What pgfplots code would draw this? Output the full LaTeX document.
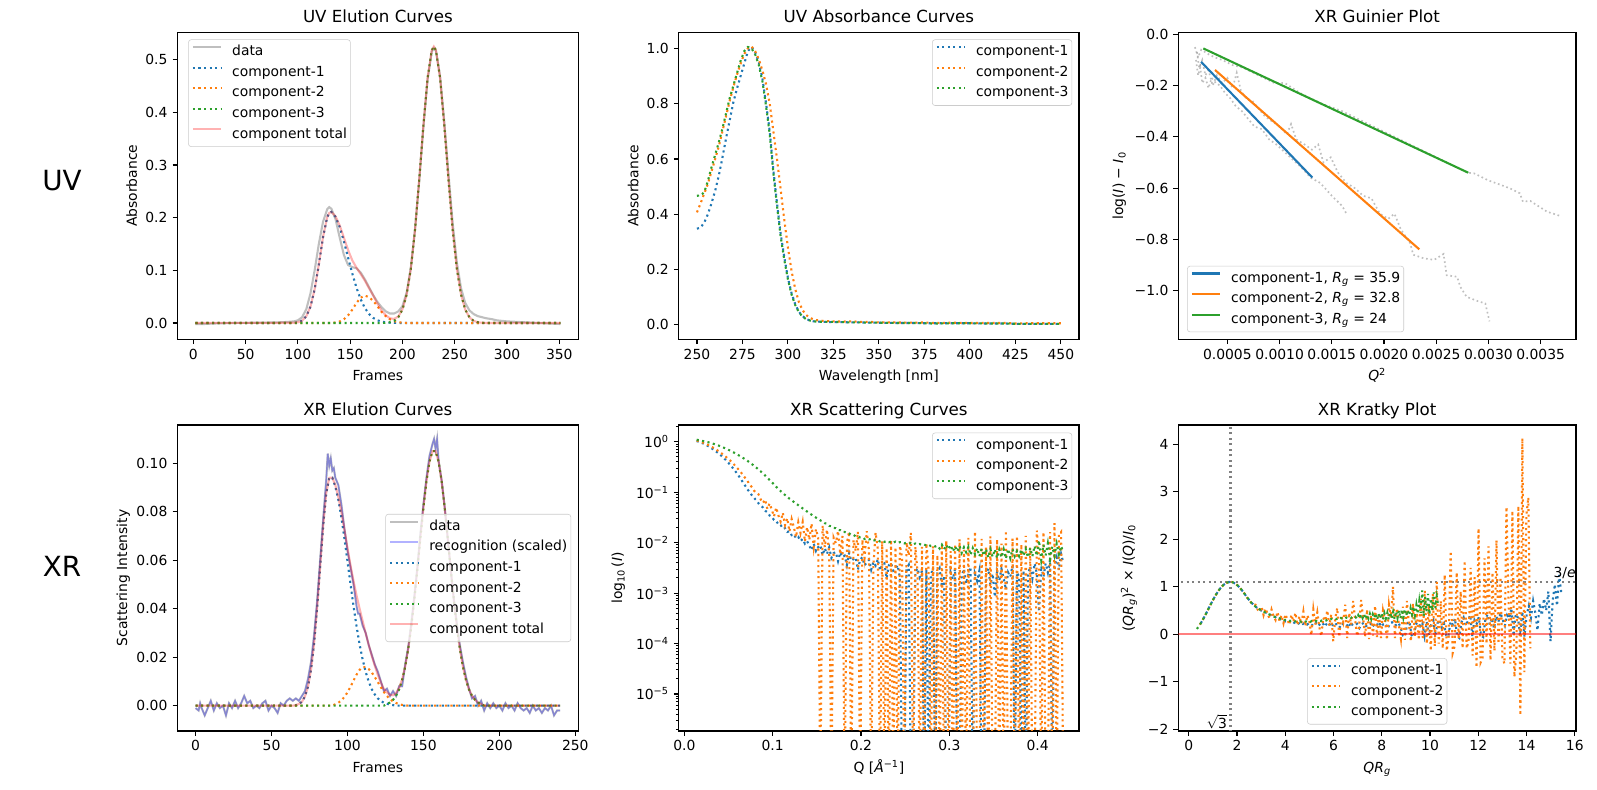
\documentclass[border=0pt]{standalone}
\usepackage{fontspec}
\setmainfont{DejaVu Sans}
\usepackage{pgfplots}
\pgfplotsset{compat=1.18}
\usepackage{pgfplotstable}
\definecolor{tabblue}{HTML}{1F77B4}
\definecolor{taborange}{HTML}{FF7F0E}
\definecolor{tabgreen}{HTML}{2CA02C}
\tikzset{
  mpldot/.style={line width=1.5pt, dash pattern=on 1.5pt off 2.475pt},
  gdot/.style={line width=1.2pt, dash pattern=on 1.2pt off 2pt, color=gray, draw opacity=0.5},
}
\pgfplotsset{
  mpl/.style={
    scale only axis, anchor=south west,
    axis line style={line width=0.8pt, black},
    tick align=outside, tick pos=left,
    major tick length=3.5pt, minor tick length=2pt,
    every tick/.style={black, line width=0.8pt},
    every minor tick/.style={black, line width=0.6pt},
    xticklabel style={anchor=base, yshift=-10.9pt, inner sep=0pt},
    yticklabel style={anchor=east, xshift=-3.5pt, inner sep=0pt},
    tick label style={font=\fontsize{10}{12}\selectfont},
    every axis label/.append style={font=\fontsize{10}{12}\selectfont},
    xlabel style={at={(axis description cs:0.5,0)}, anchor=base, yshift=-29.6pt},
    ylabel style={anchor=base},
    title style={at={(axis description cs:0.5,1)}, anchor=base, yshift=1pt, font=\fontsize{12}{14}\selectfont},
    /pgf/number format/assume math mode=true,
    scaled ticks=false,
    legend cell align=left,
    legend style={draw=black!20, rounded corners=2pt, fill=white, fill opacity=0.8, draw opacity=1, text opacity=1,
      font=\fontsize{10}{12}\selectfont, inner xsep=2.5pt, inner ysep=4pt, row sep=5pt, column sep=7.5pt,
      nodes={inner sep=0pt, text height=7.6pt, text depth=2.2pt}},
  },
}
\pgfplotsset{legend image code/.code={\draw[#1, line cap=butt] (0pt,3.6pt) -- (20pt,3.6pt);}}

% ---------------- UV elution ----------------
\pgfplotstableread{
f v
2 -0.002
10 -0.002
20 -0.001
40 0.000
60 0.0005
80 0.001
90 0.002
96 0.003
100 0.005
104 0.011
108 0.026
112 0.056
116 0.100
120 0.150
124 0.192
128 0.216
130 0.220
132 0.217
136 0.197
140 0.162
144 0.129
148 0.110
152 0.106
156 0.104
160 0.096
164 0.083
168 0.068
172 0.053
176 0.040
180 0.030
184 0.022
188 0.018
192 0.018
196 0.022
200 0.032
204 0.058
208 0.105
212 0.178
216 0.270
220 0.372
224 0.462
228 0.515
230 0.522
232 0.517
236 0.468
240 0.382
244 0.283
248 0.190
252 0.115
256 0.066
260 0.038
264 0.024
268 0.017
272 0.013
276 0.011
280 0.009
286 0.007
290 0.005
300 0.003
320 0.001
340 -0.001
351 -0.002
}\uvdata
\pgfplotstableread{
f v
2 0
96 0
100 0.0013
104 0.0044
108 0.0127
112 0.031
116 0.064
120 0.111
124 0.163
128 0.201
130 0.209
132 0.211
136 0.2015
140 0.182
144 0.155
148 0.124
152 0.094
156 0.067
160 0.045
164 0.0285
168 0.0171
172 0.0097
176 0.0051
180 0.0026
184 0.0012
188 0.0005
192 0.0002
196 0
351 0
}\uvca
\pgfplotstableread{
f v
2 0
132 0
136 0.001
140 0.0029
144 0.007
148 0.0145
152 0.0253
156 0.038
160 0.048
164 0.052
168 0.049
172 0.042
176 0.032
180 0.021
184 0.013
188 0.007
192 0.0034
196 0.0015
200 0.0005
204 0
351 0
}\uvcb
\pgfplotstableread{
f v
2 0
180 0
184 0.0004
188 0.0014
192 0.0041
196 0.0108
200 0.0256
204 0.054
208 0.103
212 0.177
216 0.272
220 0.375
224 0.465
228 0.518
230 0.525
232 0.518
236 0.465
240 0.375
244 0.272
248 0.177
252 0.103
256 0.054
260 0.0256
264 0.0108
268 0.0041
272 0.0014
276 0.0004
280 0
351 0
}\uvcc
\pgfplotstableread{
f v
2 0
96 0.0004
100 0.0013
104 0.0044
108 0.0127
112 0.031
116 0.064
120 0.111
124 0.163
128 0.201
130 0.209
132 0.211
136 0.2025
140 0.185
144 0.162
148 0.1385
152 0.119
156 0.105
160 0.093
164 0.0805
168 0.066
172 0.052
176 0.037
180 0.0236
184 0.0146
188 0.0089
192 0.0077
196 0.0123
200 0.026
204 0.054
208 0.103
212 0.177
216 0.272
220 0.375
224 0.465
228 0.518
230 0.525
232 0.518
236 0.465
240 0.375
244 0.272
248 0.177
252 0.103
256 0.054
260 0.0256
264 0.0108
268 0.0041
272 0.0014
276 0.0004
280 0
351 0
}\uvtot

% ---------------- UV absorbance ----------------
\pgfplotstableread{
w a b c
250 0.348 0.407 0.467
252 0.352 0.440 0.468
254 0.370 0.475 0.480
256 0.400 0.510 0.520
258 0.440 0.555 0.570
260 0.485 0.600 0.615
262 0.540 0.645 0.660
264 0.605 0.700 0.710
266 0.675 0.755 0.765
268 0.740 0.810 0.820
270 0.805 0.860 0.865
272 0.855 0.905 0.910
274 0.900 0.945 0.955
276 0.945 0.980 0.990
278 0.990 1.000 1.005
280 1.005 1.007 1.000
282 0.985 0.990 0.978
284 0.950 0.960 0.940
286 0.890 0.920 0.880
288 0.800 0.870 0.790
290 0.700 0.800 0.690
292 0.560 0.700 0.550
294 0.440 0.600 0.430
296 0.330 0.490 0.320
298 0.245 0.380 0.235
300 0.170 0.280 0.165
302 0.115 0.195 0.110
304 0.075 0.130 0.072
306 0.048 0.083 0.046
308 0.032 0.054 0.030
310 0.022 0.036 0.021
312 0.016 0.026 0.016
314 0.013 0.020 0.013
316 0.012 0.017 0.012
320 0.011 0.014 0.011
325 0.010 0.013 0.011
330 0.010 0.012 0.010
335 0.009 0.013 0.009
340 0.009 0.011 0.009
345 0.008 0.011 0.008
350 0.008 0.009 0.008
360 0.007 0.009 0.007
370 0.007 0.008 0.007
375 0.006 0.009 0.006
380 0.006 0.007 0.005
390 0.006 0.008 0.006
400 0.006 0.007 0.006
410 0.005 0.007 0.005
420 0.005 0.007 0.005
425 0.004 0.005 0.004
430 0.004 0.006 0.004
440 0.004 0.006 0.004
450 0.004 0.006 0.004
}\uvabs

% ---------------- Guinier ----------------
\pgfplotstableread{
x y
0.00020 -0.10
0.00022 -0.16
0.00024 -0.13
0.00026 -0.19
0.00029 -0.17
0.00032 -0.21
0.00035 -0.17
0.00039 -0.19
0.00043 -0.20
0.00048 -0.23
0.00053 -0.25
0.00058 -0.28
0.00064 -0.30
0.00070 -0.33
0.00076 -0.36
0.00083 -0.37
0.00090 -0.41
0.00097 -0.43
0.00105 -0.46
0.00113 -0.49
0.00121 -0.52
0.00130 -0.56
0.00139 -0.58
0.00150 -0.63
0.00160 -0.67
0.00164 -0.70
}\gA
\pgfplotstableread{
x y
0.00021 -0.07
0.00023 -0.13
0.00026 -0.10
0.00029 -0.16
0.00032 -0.14
0.00036 -0.20
0.00040 -0.16
0.00045 -0.19
0.00050 -0.17
0.00055 -0.21
0.00059 -0.15
0.00063 -0.22
0.00068 -0.25
0.00074 -0.26
0.00080 -0.29
0.00086 -0.32
0.00093 -0.34
0.00100 -0.36
0.00107 -0.39
0.00111 -0.35
0.00116 -0.41
0.00124 -0.43
0.00131 -0.45
0.00137 -0.43
0.00142 -0.50
0.00149 -0.48
0.00156 -0.54
0.00164 -0.58
0.00172 -0.60
0.00180 -0.63
0.00188 -0.64
0.00196 -0.70
0.00204 -0.72
0.00210 -0.70
0.00216 -0.76
0.00225 -0.815
0.00228 -0.86
0.00238 -0.874
0.00248 -0.88
0.00257 -0.857
0.00260 -0.94
0.00270 -0.946
0.00273 -0.985
0.00279 -1.024
0.00289 -1.04
0.00297 -1.05
0.00301 -1.12
}\gB
\pgfplotstableread{
x y
0.00019 -0.05
0.00022 -0.09
0.00025 -0.06
0.00029 -0.07
0.00033 -0.08
0.00038 -0.09
0.00045 -0.10
0.00055 -0.12
0.00065 -0.13
0.00075 -0.15
0.00085 -0.17
0.00095 -0.19
0.00105 -0.19
0.00120 -0.23
0.00140 -0.27
0.00160 -0.30
0.00180 -0.34
0.00200 -0.38
0.00220 -0.42
0.00240 -0.46
0.00260 -0.50
0.00280 -0.54
0.00286 -0.542
0.00300 -0.57
0.00320 -0.60
0.00330 -0.62
0.00333 -0.653
0.00340 -0.65
0.00356 -0.692
0.00369 -0.709
}\gC

% ---------------- XR elution ----------------
\pgfplotstableread{
f v
0 -0.001
2 -0.002
3 0.001
4 -0.001
6 -0.004
8 -0.001
10 0.002
12 -0.002
14 0.001
16 -0.001
18 0.000
20 -0.004
22 0.001
24 -0.001
26 0.002
28 -0.001
30 0.001
32 0.004
34 0.001
36 0.002
38 -0.001
40 0.000
42 -0.001
44 0.001
46 0.002
48 -0.002
50 0.000
52 -0.001
54 -0.003
56 0.001
58 0.000
60 0.002
62 0.003
64 0.002
66 0.003
68 0.002
70 0.004
72 0.006
74 0.011
76 0.018
78 0.029
80 0.043
82 0.060
84 0.077
86 0.093
87 0.104
88 0.099
89 0.102
90 0.097
91 0.098
92 0.094
94 0.091
96 0.083
98 0.073
100 0.064
102 0.057
104 0.050
106 0.041
107 0.038
108 0.038
110 0.033
112 0.030
114 0.025
116 0.021
118 0.017
120 0.014
122 0.010
124 0.006
126 0.007
128 0.004
130 0.006
132 0.004
134 0.008
136 0.008
138 0.017
140 0.024
142 0.034
144 0.045
146 0.057
148 0.071
150 0.083
152 0.094
154 0.103
156 0.108
157 0.110
158 0.106
159 0.110
160 0.101
162 0.093
164 0.082
166 0.069
168 0.056
170 0.044
172 0.034
174 0.025
176 0.018
178 0.012
180 0.007
182 0.003
184 0.004
186 0.000
188 0.002
190 -0.002
192 0.001
194 -0.001
196 0.001
198 -0.001
200 0.000
202 -0.002
204 0.001
206 -0.001
208 0.000
210 -0.002
212 0.001
214 -0.001
216 -0.002
218 -0.001
220 -0.003
222 0.000
224 -0.002
226 -0.001
228 -0.003
230 -0.001
232 -0.002
234 0.000
236 -0.004
238 -0.002
240 -0.002
}\xrdata
\pgfplotstableread{
f v
0 0
64 0
66 0.0002
68 0.0007
70 0.0016
72 0.0038
74 0.0078
76 0.0148
78 0.0256
80 0.0401
82 0.0572
84 0.0742
86 0.0876
88 0.094
90 0.0941
92 0.0904
94 0.0849
96 0.0776
98 0.069
100 0.0596
102 0.0501
104 0.041
106 0.0326
108 0.0252
110 0.019
112 0.0139
114 0.0099
116 0.0068
118 0.0046
120 0.003
122 0.0019
124 0.0012
126 0.0008
128 0.0004
130 0.0002
134 0
240 0
}\xrca
\pgfplotstableread{
f v
0 0
90 0
92 0.0006
94 0.0012
96 0.0022
98 0.0036
100 0.0055
102 0.0078
104 0.0104
106 0.0128
108 0.0148
110 0.0159
112 0.0159
114 0.0151
116 0.0137
118 0.0118
120 0.0097
122 0.0076
124 0.0056
126 0.004
128 0.0027
130 0.0017
132 0.0011
134 0.0006
136 0.0003
140 0
240 0
}\xrcb
\pgfplotstableread{
f v
0 0
124 0
126 0.0007
128 0.0013
130 0.0024
132 0.0041
134 0.0067
136 0.0106
138 0.0161
140 0.0234
142 0.0327
144 0.0438
146 0.0562
148 0.0692
150 0.0817
152 0.0926
154 0.1007
156 0.105
158 0.105
160 0.1007
162 0.0926
164 0.0817
166 0.0692
168 0.0562
170 0.0438
172 0.0327
174 0.0234
176 0.0161
178 0.0106
180 0.0067
182 0.0041
184 0.0024
186 0.0013
188 0.0007
190 0
240 0
}\xrcc
\pgfplotstableread{
f v
0 0
64 0
66 0.0002
68 0.0007
70 0.0016
72 0.0038
74 0.0078
76 0.0148
78 0.0256
80 0.0401
82 0.0572
84 0.0742
86 0.0876
88 0.094
90 0.0941
92 0.091
94 0.0861
96 0.0798
98 0.0726
100 0.0651
102 0.0579
104 0.0514
106 0.0454
108 0.040
110 0.0349
112 0.0298
114 0.025
116 0.0205
118 0.0164
120 0.0127
122 0.0095
124 0.0068
126 0.0055
128 0.0044
130 0.0043
132 0.0052
134 0.0073
136 0.0109
138 0.0161
140 0.0234
142 0.0327
144 0.0438
146 0.0562
148 0.0692
150 0.0817
152 0.0926
154 0.1007
156 0.105
158 0.105
160 0.1007
162 0.0926
164 0.0817
166 0.0692
168 0.0562
170 0.0438
172 0.0327
174 0.0234
176 0.0161
178 0.0106
180 0.0067
182 0.0041
184 0.0024
186 0.0013
188 0.0007
190 0
240 0
}\xrtot

% ---------------- XR scattering: Kratky values per Q ----------------
\pgfplotstableread{
Q K1 K2 K3
0.0140 0.233 0.200 0.111
0.0165 0.314 0.270 0.151
0.0190 0.400 0.345 0.197
0.0215 0.491 0.426 0.246
0.0240 0.582 0.509 0.299
0.0265 0.671 0.593 0.357
0.0290 0.757 0.674 0.415
0.0315 0.836 0.753 0.476
0.0340 0.908 0.826 0.536
0.0365 0.970 0.895 0.598
0.0390 1.022 0.953 0.658
0.0415 1.060 1.003 0.717
0.0440 1.086 1.042 0.772
0.0465 1.101 1.073 0.825
0.0490 1.101 1.092 0.875
0.0515 1.087 1.105 0.920
0.0540 1.060 1.101 0.962
0.0565 1.023 1.084 0.998
0.0590 0.976 1.058 1.029
0.0615 0.920 1.025 1.055
0.0640 0.857 0.990 1.074
0.0665 0.794 0.925 1.090
0.0690 0.735 0.880 1.098
0.0715 0.670 0.825 1.104
0.0740 0.633 0.755 1.101
0.0765 0.585 0.712 1.089
0.0790 0.552 0.648 1.074
0.0815 0.528 0.622 1.053
0.0840 0.490 0.620 1.028
0.0865 0.470 0.520 0.997
0.0890 0.455 0.470 0.963
0.0915 0.415 0.580 0.927
0.0940 0.410 0.400 0.885
0.0965 0.372 0.540 0.842
0.0990 0.368 0.430 0.800
0.1015 0.335 0.330 0.758
0.1040 0.338 0.520 0.716
0.1065 0.300 0.380 0.680
0.1090 0.310 0.300 0.646
0.1115 0.270 0.470 0.617
0.1140 0.290 0.280 0.591
0.1165 0.255 0.400 0.567
0.1190 0.275 0.230 0.546
0.1215 0.240 0.420 0.527
0.1240 0.262 0.300 0.509
0.1265 0.225 0.200 0.492
0.1290 0.250 0.410 0.475
0.1315 0.215 0.260 0.458
0.1340 0.245 0.450 0.443
0.1365 0.205 0.190 0.428
0.1390 0.238 0.380 0.413
0.1415 0.20 0.22 0.398
0.1440 0.17 0.48 0.385
0.1465 0.235 0.17 0.372
0.1490 0.175 0.40 0.36
0.1515 0.215 0.28 0.352
0.1540 0.245 -0.02 0.338
0.1565 0.16 0.52 0.335
0.1590 0.225 0.20 0.318
0.1615 0.18 0.46 0.320
0.1640 0.25 0.15 0.300
0.1665 0.16 -0.04 0.302
0.1690 0.205 0.35 0.290
0.1715 0.22 0.28 0.294
0.1740 0.15 0.50 0.280
0.1765 0.23 0.18 0.285
0.1790 0.19 0.42 0.271
0.1815 0.21 -0.15 0.278
0.1840 0.14 0.33 0.268
0.1865 0.25 0.55 0.275
0.1890 0.18 -0.06 0.262
0.1915 0.20 0.40 0.270
0.1940 0.22 0.25 0.259
0.1965 0.13 0.62 0.268
0.1990 0.21 -0.08 0.26
0.2015 0.24 0.45 0.27
0.2040 0.17 0.20 0.255
0.2065 0.20 0.70 0.268
0.2090 0.23 0.30 0.262
0.2115 0.15 -0.04 0.275
0.2140 0.22 0.15 0.26
0.2165 0.19 0.72 0.272
0.2190 0.26 0.35 0.28
0.2215 0.16 -0.05 0.268
0.2240 0.21 0.52 0.285
0.2265 0.23 -0.10 0.276
0.2290 0.12 0.40 0.29
0.2315 0.22 -0.03 0.282
0.2340 0.25 0.60 0.298
0.2365 0.18 -0.06 0.29
0.2390 0.20 0.45 0.31
0.2415 0.24 -0.08 0.298
0.2440 0.14 0.50 0.315
0.2465 -0.03 0.30 0.32
0.2490 -0.05 -0.12 0.31
0.2515 0.22 0.62 0.328
0.2540 0.27 0.35 0.318
0.2565 -0.02 1.00 0.335
0.2590 -0.06 -0.08 0.32
0.2615 0.21 0.55 0.34
0.2640 0.25 0.18 0.33
0.2665 0.17 -0.10 0.345
0.2690 0.23 0.58 0.335
0.2715 -0.04 -0.12 0.35
0.2740 0.26 0.70 0.34
0.2765 -0.02 0.22 0.36
0.2790 0.20 -0.15 0.345
0.2815 0.29 0.65 0.362
0.2840 -0.02 -0.05 0.35
0.2865 0.24 0.45 0.368
0.2890 0.30 -0.12 0.33
0.2915 0.13 0.75 0.40
0.2940 0.22 -0.08 0.33
0.2965 -0.05 0.92 0.41
0.2990 -0.03 -0.20 0.34
0.3015 0.27 0.60 0.42
0.3040 0.20 -0.35 0.32
0.3065 0.33 0.85 0.41
0.3090 -0.04 -0.25 0.33
0.3115 -0.08 1.10 0.43
0.3140 0.25 -0.20 0.32
0.3165 0.35 0.70 0.42
0.3190 0.18 -0.30 0.34
0.3215 0.28 1.25 0.44
0.3240 0.40 -0.35 0.31
0.3265 -0.04 -0.05 0.43
0.3290 0.30 1.75 0.33
0.3315 0.22 -0.40 0.44
0.3340 0.36 -0.25 0.31
0.3365 -0.03 1.30 0.44
0.3390 -0.06 -0.10 0.33
0.3415 0.31 0.90 0.45
0.3440 0.42 -0.30 0.31
0.3465 0.20 1.55 0.46
0.3490 0.34 -0.30 0.33
0.3515 0.12 -0.15 0.47
0.3540 0.38 1.40 0.32
0.3565 0.26 -0.45 0.48
0.3590 0.45 1.20 0.34
0.3615 0.30 -0.70 0.50
0.3640 0.18 2.23 0.33
0.3665 0.40 -0.60 0.52
0.3690 0.33 -0.50 0.35
0.3715 0.55 1.60 0.53
0.3740 -0.03 -0.20 0.39
0.3765 0.42 1.85 0.50
0.3790 0.35 -0.55 0.40
0.3815 -0.02 1.30 0.55
0.3840 0.48 -0.35 0.42
0.3865 -0.05 1.98 0.58
0.3890 0.40 -0.20 0.40
0.3915 0.60 1.20 0.62
0.3940 0.35 -0.50 0.43
0.3965 0.70 -0.62 0.70
0.3990 0.45 2.68 0.45
0.4015 0.08 0.80 0.92
0.4040 0.65 -0.62 0.38
0.4065 0.40 2.60 0.78
0.4090 0.75 -0.90 0.48
0.4115 0.50 -0.40 0.85
0.4140 0.90 2.70 0.42
0.4165 -0.15 -1.71 0.75
0.4190 0.70 4.13 0.50
0.4215 1.05 -0.80 0.88
0.4240 0.60 2.50 0.55
0.4265 1.25 2.88 0.80
0.4290 0.85 -0.30 0.62
}\kr

\begin{document}
\begin{tikzpicture}
\path[use as bounding box, fill=white] (0,0) rectangle (1149.84pt,568.8pt);
\node[font=\fontsize{20}{24}\selectfont] at (44.6pt,438.5pt) {UV};
\node[font=\fontsize{20}{24}\selectfont] at (44.6pt,161.3pt) {XR};

% Panel 1
\begin{axis}[mpl, at={(127.7pt,324.5pt)}, width=288.7pt, height=221.0pt,
  xmin=-15.3, xmax=368.2, ymin=-0.031, ymax=0.552,
  xtick={0,50,100,150,200,250,300,350}, ytick={0,0.1,0.2,0.3,0.4,0.5},
  yticklabel style={/pgf/number format/.cd, fixed, fixed zerofill, precision=1},
  title={UV Elution Curves}, xlabel={Frames}, ylabel={Absorbance},
  ylabel style={at={(axis description cs:-0.1011,0.5)}},
  legend style={at={(0.027,0.977)}, anchor=north west}]
\addplot[gray, draw opacity=0.5, line width=1.5pt] table[x=f,y=v] {\uvdata};
\addlegendentry{data}
\addplot[tabblue, mpldot] table[x=f,y=v] {\uvca};
\addlegendentry{component-1}
\addplot[taborange, mpldot] table[x=f,y=v] {\uvcb};
\addlegendentry{component-2}
\addplot[tabgreen, mpldot] table[x=f,y=v] {\uvcc};
\addlegendentry{component-3}
\addplot[red, draw opacity=0.3, line width=1.5pt] table[x=f,y=v] {\uvtot};
\addlegendentry{component total}
\end{axis}

% Panel 2
\begin{axis}[mpl, at={(488.7pt,324.5pt)}, width=288.2pt, height=221.0pt,
  xmin=240, xmax=460, ymin=-0.052, ymax=1.058,
  xtick={250,275,300,325,350,375,400,425,450}, ytick={0,0.2,0.4,0.6,0.8,1.0},
  yticklabel style={/pgf/number format/.cd, fixed, fixed zerofill, precision=1},
  title={UV Absorbance Curves}, xlabel={Wavelength [nm]}, ylabel={Absorbance},
  ylabel style={at={(axis description cs:-0.1010,0.5)}},
  legend style={at={(0.983,0.977)}, anchor=north east}]
\addplot[tabblue, mpldot] table[x=w,y=a] {\uvabs};
\addlegendentry{component-1}
\addplot[taborange, mpldot] table[x=w,y=b] {\uvabs};
\addlegendentry{component-2}
\addplot[tabgreen, mpldot] table[x=w,y=c] {\uvabs};
\addlegendentry{component-3}
\end{axis}

% Panel 3
\begin{axis}[mpl, at={(848.4pt,324.5pt)}, width=286.3pt, height=221.0pt,
  xmin=0.000031, xmax=0.003838, ymin=-1.19, ymax=0.0078,
  xtick={0.0005,0.001,0.0015,0.002,0.0025,0.003,0.0035},
  xticklabels={0.0005,0.0010,0.0015,0.0020,0.0025,0.0030,0.0035},
  ytick={-1,-0.8,-0.6,-0.4,-0.2,0},
  yticklabels={−1.0,−0.8,−0.6,−0.4,−0.2,0.0},
  title={XR Guinier Plot}, xlabel={\textit{Q}\textsuperscript{2}},
  ylabel={log(\textit{I}) − \textit{I}\textsubscript{0}},
  ylabel style={at={(axis description cs:-0.139,0.5)}},
  legend style={at={(0.022,0.023)}, anchor=south west}]
\addplot[gdot, forget plot] table[x=x,y=y] {\gA};
\addplot[gdot, forget plot] table[x=x,y=y] {\gB};
\addplot[gdot, forget plot] table[x=x,y=y] {\gC};
\addplot[tabblue, line width=1.5pt] coordinates {(0.000248,-0.107) (0.001314,-0.559)};
\addlegendentry{component-1, \textit{R}\textsubscript{\textit{g}} = 35.9}
\addplot[taborange, line width=1.5pt] coordinates {(0.000382,-0.139) (0.002338,-0.839)};
\addlegendentry{component-2, \textit{R}\textsubscript{\textit{g}} = 32.8}
\addplot[tabgreen, line width=1.5pt] coordinates {(0.00027,-0.055) (0.002807,-0.540)};
\addlegendentry{component-3, \textit{R}\textsubscript{\textit{g}} = 24}
\end{axis}

% Panel 4
\begin{axis}[mpl, at={(127.7pt,42.5pt)}, width=288.7pt, height=220.3pt,
  xmin=-12, xmax=252, ymin=-0.01044, ymax=0.1158,
  xtick={0,50,100,150,200,250}, ytick={0,0.02,0.04,0.06,0.08,0.1},
  yticklabel style={/pgf/number format/.cd, fixed, fixed zerofill, precision=2},
  title={XR Elution Curves}, xlabel={Frames}, ylabel={Scattering Intensity},
  ylabel style={at={(axis description cs:-0.1254,0.5)}},
  legend style={at={(0.982,0.5)}, anchor=east}]
\addplot[gray, draw opacity=0.5, line width=1.5pt] table[x=f,y=v] {\xrdata};
\addlegendentry{data}
\addplot[blue, draw opacity=0.3, line width=1pt] table[x=f,y=v] {\xrdata};
\addlegendentry{recognition (scaled)}
\addplot[tabblue, mpldot] table[x=f,y=v] {\xrca};
\addlegendentry{component-1}
\addplot[taborange, mpldot] table[x=f,y=v] {\xrcb};
\addlegendentry{component-2}
\addplot[tabgreen, mpldot] table[x=f,y=v] {\xrcc};
\addlegendentry{component-3}
\addplot[red, draw opacity=0.3, line width=1.5pt] table[x=f,y=v] {\xrtot};
\addlegendentry{component total}
\end{axis}

% Panel 5
\begin{axis}[mpl, at={(488.7pt,42.5pt)}, width=288.2pt, height=220.3pt,
  ymode=log, xmin=-0.0063, xmax=0.4468, ymin=1.85e-6, ymax=2.14,
  xtick={0,0.1,0.2,0.3,0.4}, xticklabels={0.0,0.1,0.2,0.3,0.4},
  ytick={1e-5,1e-4,1e-3,1e-2,1e-1,1},
  yticklabels={10\textsuperscript{−5},10\textsuperscript{−4},10\textsuperscript{−3},10\textsuperscript{−2},10\textsuperscript{−1},10\textsuperscript{0}},
  minor ytick={2e-6,3e-6,4e-6,5e-6,6e-6,7e-6,8e-6,9e-6,2e-5,3e-5,4e-5,5e-5,6e-5,7e-5,8e-5,9e-5,2e-4,3e-4,4e-4,5e-4,6e-4,7e-4,8e-4,9e-4,2e-3,3e-3,4e-3,5e-3,6e-3,7e-3,8e-3,9e-3,2e-2,3e-2,4e-2,5e-2,6e-2,7e-2,8e-2,9e-2,0.2,0.3,0.4,0.5,0.6,0.7,0.8,0.9,2},
  title={XR Scattering Curves}, xlabel={Q [\textit{Å}\textsuperscript{−1}]},
  ylabel={log\textsubscript{10}\,(\textit{I})},
  ylabel style={at={(axis description cs:-0.1416,0.5)}},
  legend style={at={(0.983,0.975)}, anchor=north east}]
\addplot[tabblue, mpldot] table[x=Q, y expr={max(1.12*\thisrow{K1}/(\thisrow{Q}*36)^2,1e-7)}] {\kr};
\addlegendentry{component-1}
\addplot[taborange, mpldot] table[x=Q, y expr={max(1.12*\thisrow{K2}/(\thisrow{Q}*33)^2,1e-7)}] {\kr};
\addlegendentry{component-2}
\addplot[tabgreen, mpldot] table[x=Q, y expr={max(1.12*\thisrow{K3}/(\thisrow{Q}*24.1)^2,1e-7)}] {\kr};
\addlegendentry{component-3}
\end{axis}

% Panel 6
\begin{axis}[mpl, at={(848.4pt,42.5pt)}, width=286.3pt, height=220.3pt,
  xmin=-0.43, xmax=16.05, ymin=-2.04, ymax=4.41,
  xtick={0,2,4,6,8,10,12,14,16}, ytick={-2,-1,0,1,2,3,4},
  yticklabels={−2,−1,0,1,2,3,4},
  title={XR Kratky Plot}, xlabel={\textit{QR}\textsubscript{\textit{g}}},
  ylabel={(\textit{QR}\textsubscript{\textit{g}})\textsuperscript{2} × \textit{I}(\textit{Q})/\textit{I}\textsubscript{0}},
  ylabel style={at={(axis description cs:-0.1139,0.5)}},
  legend style={at={(0.5,0.021)}, anchor=south}]
\addplot[gray, mpldot, forget plot] coordinates {(1.732,-3) (1.732,5)};
\addplot[gray, mpldot, forget plot] coordinates {(-1,1.1036) (17,1.1036)};
\addplot[tabblue, mpldot] table[x expr=\thisrow{Q}*36, y=K1] {\kr};
\addlegendentry{component-1}
\addplot[taborange, mpldot] table[x expr=\thisrow{Q}*33, y=K2] {\kr};
\addlegendentry{component-2}
\addplot[tabgreen, mpldot] table[x expr=\thisrow{Q}*24.1, y=K3] {\kr};
\addlegendentry{component-3}
\addplot[red, draw opacity=0.5, line width=1.5pt, forget plot] coordinates {(-1,0) (17,0)};
\node[anchor=south east, inner sep=0pt, yshift=2pt] at (axis cs:16.05,1.1036) {3/\textit{e}};
\node[anchor=south east, inner sep=0pt, yshift=1pt] at (axis cs:1.6,-2.04) {\ensuremath{\sqrt{\mbox{3}}}};
\end{axis}
\end{tikzpicture}
\end{document}
